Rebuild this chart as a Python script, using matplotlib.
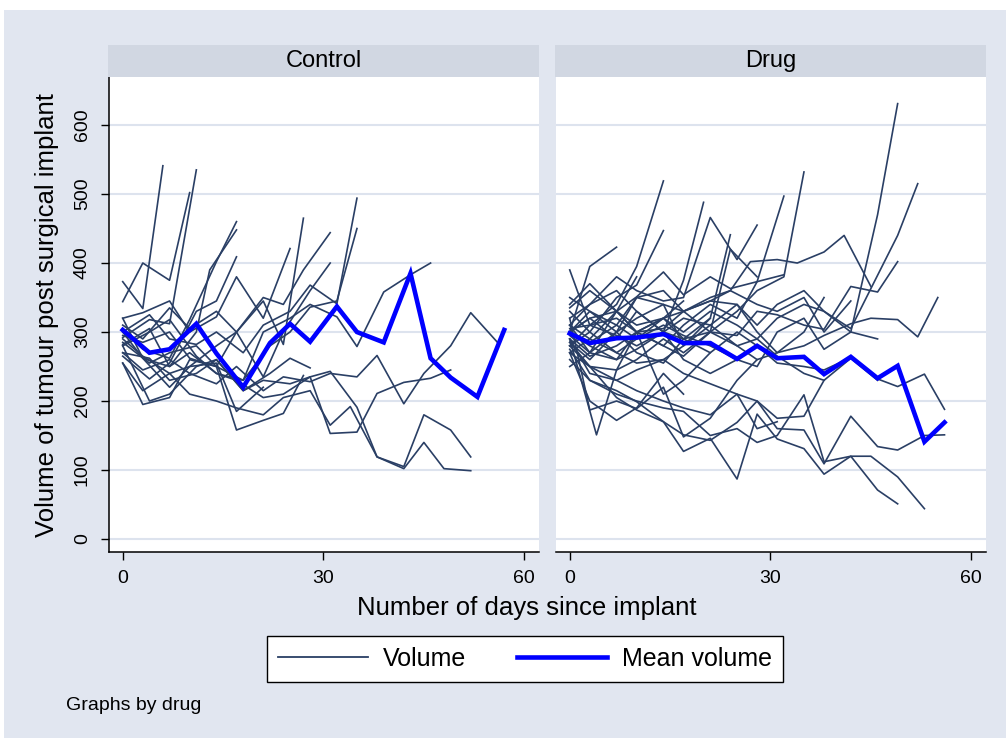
import matplotlib.pyplot as plt
from matplotlib.lines import Line2D
from matplotlib.patches import Rectangle

plt.rcParams['font.family'] = ['Liberation Sans', 'DejaVu Sans']

# ---- data: one list of days and one of volumes per subject ----
ctrl_days = [
    [0, 3, 6],
    [0, 3, 7, 10],
    [0, 4, 7, 11],
    [0, 3, 7, 10, 14, 17],
    [0, 4, 7, 11, 13, 17],
    [0, 4, 7, 11, 14, 17],
    [0, 3, 7, 10, 14, 17, 21, 25],
    [0, 3, 7, 10, 14, 17, 21, 24, 27],
    [0, 4, 7, 11, 14, 18, 21, 25, 28, 32, 35],
    [0, 4, 7, 11, 14, 18, 22, 25, 28, 32, 35],
    [0, 3, 7, 10, 14, 17, 21, 24, 27, 31],
    [0, 3, 7, 10, 14, 17, 21, 24, 28, 31],
    [0, 4, 7, 11, 14, 18, 21, 25, 28, 32, 35, 39, 43, 46],
    [0, 3, 7, 10, 14, 17, 21, 24, 28, 31, 35, 38, 42, 45, 49, 52, 56],
    [0, 3, 7, 10, 14, 17, 21, 24, 28, 31, 35, 38, 42, 45, 49, 52],
    [0, 3, 7, 10, 14, 17, 21, 24, 28, 31, 34, 38, 42, 45, 48, 52],
    [0, 4, 7, 11, 14, 18, 21, 25, 28, 31, 35, 38, 42, 46, 49],
    [0, 4, 7, 11, 14, 18, 22, 25, 28],
    [0, 3, 7, 10, 14, 17, 21, 24, 27],
    [0, 3, 7, 10, 14, 17, 21],
]
ctrl_volume = [
    [373, 334, 541],
    [344, 400, 375, 502],
    [292, 318, 312, 535],
    [305, 275, 262, 318, 402, 460],
    [282, 305, 250, 300, 390, 448],
    [265, 232, 255, 330, 345, 409],
    [320, 328, 345, 300, 322, 380, 320, 421],
    [295, 285, 300, 262, 250, 300, 345, 282, 465],
    [300, 325, 290, 282, 300, 270, 310, 330, 368, 341, 494],
    [280, 300, 318, 265, 240, 230, 280, 300, 336, 345, 450],
    [310, 290, 335, 305, 330, 300, 350, 340, 390, 444],
    [290, 265, 240, 250, 280, 300, 235, 300, 360, 400],
    [285, 255, 270, 280, 250, 230, 300, 320, 340, 322, 279, 358, 383, 400],
    [270, 245, 260, 240, 225, 250, 215, 235, 228, 240, 235, 266, 196, 240, 280, 328, 285],
    [300, 262, 250, 270, 240, 230, 205, 210, 235, 243, 191, 119, 105, 180, 158, 119],
    [255, 215, 240, 210, 200, 190, 180, 205, 215, 165, 192, 119, 102, 140, 102, 99],
    [280, 200, 210, 250, 260, 215, 230, 225, 235, 153, 155, 211, 227, 233, 245],
    [270, 262, 230, 240, 260, 215, 240, 262, 248],
    [255, 195, 205, 260, 250, 158, 172, 182, 237],
    [320, 262, 220, 250, 255, 185, 220],
]
ctrl_mean_days = [0, 4, 7, 11, 14, 18, 22, 25, 28, 32, 35, 39, 43, 46, 49, 53, 57]
ctrl_mean_volume = [303, 270, 275, 312, 269, 220, 284, 312, 286, 337, 300, 285, 385, 262, 234, 206, 303]

drug_days = [
    [0, 3, 7, 10, 14],
    [0, 3, 7],
    [0, 3, 7, 10, 14],
    [0, 3, 7, 10, 14, 17, 20],
    [0, 3, 7, 10, 14, 17, 21, 25, 28],
    [0, 3, 7, 10, 14, 17, 21, 24],
    [0, 3, 7, 10, 14, 17, 21, 25, 28, 32, 35],
    [0, 3, 7, 10, 14, 17, 21, 25, 28, 32],
    [0, 3, 7, 10, 14, 17, 21, 24, 27, 31, 34, 38, 41, 45],
    [0, 3, 7, 10, 14, 17, 21, 25, 28, 31, 35, 38, 42, 46, 49],
    [0, 3, 7, 10, 14, 17, 21, 25, 28, 31, 35, 38, 42, 46, 49],
    [0, 3, 7, 10, 14, 17, 21, 25, 28, 31, 35, 38, 42, 45, 49, 52],
    [0, 3, 7, 10, 14, 17, 21, 25, 28, 31, 35, 38, 42, 45, 49, 52, 55],
    [0, 3, 7, 10, 14, 17, 21, 25, 28, 31, 35, 38, 42, 46, 49, 53, 56],
    [0, 3, 7, 10, 14, 17, 21, 25, 28, 31, 35, 38, 42, 46, 49, 53, 56],
    [0, 3, 7, 10, 14, 17, 21, 25, 28, 31, 35, 38, 42, 45, 49, 53],
    [0, 3, 7, 10, 14, 17, 21, 25, 28, 31, 35, 38, 42, 46, 49],
    [0, 3, 7, 10, 14, 17, 21, 25, 28, 31, 35, 38],
    [0, 4, 7, 10, 14, 17, 21],
    [0, 3, 7, 10, 14, 17],
    [0, 3, 7, 10, 14, 17, 21, 25, 28],
    [0, 3, 7, 10, 14, 17, 21, 24, 28],
    [0, 3, 7, 10, 14, 17, 21, 25, 28, 31, 35, 38],
    [0, 3, 7, 10, 14, 17, 21],
    [0, 3, 7, 10, 14, 17, 21, 24, 28, 32],
    [0, 3, 7, 10, 14, 17, 21, 25, 28, 31, 35, 38, 42, 46],
    [0, 3, 7, 10, 14, 17, 21, 25],
    [0, 3, 7, 10, 14, 17, 21, 24, 28, 31, 35, 38, 42],
    [0, 3, 7, 10, 14, 17, 21, 25, 28, 31, 35, 38, 42, 46],
    [0, 3, 7, 10, 14, 17, 21, 25, 28, 31],
    [0, 3, 7, 10, 14, 17],
    [0, 3, 7, 10],
]
drug_volume = [
    [390, 310, 340, 395, 519],
    [300, 395, 423],
    [330, 300, 350, 368, 447],
    [300, 320, 290, 330, 300, 375, 488],
    [310, 340, 380, 360, 345, 350, 466, 405, 455],
    [285, 260, 300, 350, 340, 280, 320, 441],
    [295, 270, 260, 300, 320, 290, 300, 330, 360, 380, 532],
    [270, 290, 330, 300, 280, 310, 340, 320, 373, 497],
    [300, 330, 310, 350, 360, 330, 350, 360, 402, 405, 400, 416, 440, 366],
    [290, 265, 280, 300, 305, 330, 300, 295, 330, 325, 310, 304, 366, 358, 402],
    [280, 300, 270, 290, 310, 295, 280, 260, 250, 300, 320, 275, 300, 470, 631],
    [300, 285, 310, 290, 320, 300, 330, 310, 290, 320, 340, 330, 305, 363, 440, 515],
    [270, 250, 245, 260, 290, 270, 300, 280, 260, 270, 280, 295, 312, 320, 318, 293, 350],
    [300, 280, 260, 275, 300, 290, 270, 300, 280, 255, 250, 245, 263, 232, 221, 239, 188],
    [285, 250, 230, 245, 260, 240, 225, 210, 200, 160, 158, 109, 178, 134, 129, 150, 151],
    [260, 230, 215, 199, 170, 127, 146, 87, 181, 145, 131, 94, 120, 120, 90, 44],
    [275, 230, 210, 200, 190, 185, 150, 160, 140, 150, 209, 112, 120, 71, 51],
    [280, 250, 205, 187, 170, 151, 143, 169, 200, 175, 178, 230],
    [290, 151, 245, 300, 210, 230, 270],
    [270, 200, 172, 190, 240, 210],
    [320, 187, 200, 189, 220, 148, 175, 230, 260],
    [335, 360, 330, 300, 280, 265, 300, 420, 380],
    [310, 290, 270, 255, 260, 280, 310, 340, 300, 270, 300, 350],
    [350, 330, 300, 270, 255, 290, 320],
    [300, 320, 330, 351, 387, 354, 380, 363, 373, 383],
    [280, 310, 320, 300, 320, 330, 345, 340, 310, 340, 360, 330, 300, 290],
    [320, 340, 360, 330, 300, 260, 240, 260],
    [250, 270, 300, 320, 340, 330, 345, 360, 340, 330, 350, 300, 345],
    [305, 310, 295, 280, 300, 320, 310, 280, 290, 265, 240, 230, 262, 230],
    [290, 240, 230, 215, 200, 190, 180, 210, 160, 170],
    [340, 370, 330, 310, 320, 345],
    [310, 270, 330, 380],
]
drug_mean_days = [0, 3, 7, 10, 14, 17, 21, 25, 28, 31, 35, 38, 42, 46, 49, 53, 56]
drug_mean_volume = [298, 284, 291, 292, 297, 284, 284, 261, 280, 262, 264, 239, 264, 233, 251, 141, 169]

panel_titles = ['Control', 'Drug']
y_ticks = [0, 100, 200, 300, 400, 500, 600]
x_ticks = [0, 30, 60]

# ---- styling ----
W, H = 1006, 738
bg = '#E1E6F0'
strip = '#D1D7E2'
grid_col = '#DDE3EE'
navy = '#2A3F65'
blue = '#0000FF'

fig = plt.figure(figsize=(W / 100, H / 100), dpi=100, facecolor='white')
fig.patches.append(Rectangle((4 / W, 0), 1 - 4 / W, 1 - 10 / H, transform=fig.transFigure,
                             facecolor=bg, edgecolor='none', zorder=-10))

panels = [
    (109, ctrl_days, ctrl_volume, ctrl_mean_days, ctrl_mean_volume),
    (556, drug_days, drug_volume, drug_mean_days, drug_mean_volume),
]

for i, (left, days, vols, mdays, mvols) in enumerate(panels):
    ax = fig.add_axes([left / W, 1 - 552 / H, 430 / W, 475 / H])
    ax.set_facecolor('white')
    for d, v in zip(days, vols):
        ax.plot(d, v, color=navy, lw=1.2, zorder=2)
    ax.plot(mdays, mvols, color=blue, lw=3.3, zorder=3, solid_joinstyle='miter')

    ax.set_xlim(-2.05, 62.2)
    ax.set_ylim(-18.8, 669.6)
    ax.set_xticks(x_ticks)
    ax.set_yticks(y_ticks)
    ax.grid(axis='y', color=grid_col, lw=1.5)
    ax.set_axisbelow(True)
    for s in ['top', 'right']:
        ax.spines[s].set_visible(False)
    ax.spines['bottom'].set_color('black')
    ax.spines['bottom'].set_linewidth(1.1)
    ax.tick_params(axis='x', length=6, width=1, pad=7, labelsize=14)
    if i == 0:
        ax.spines['left'].set_linewidth(1.1)
        ax.tick_params(axis='y', length=6, width=1, pad=7, labelsize=14)
        for lab in ax.get_yticklabels():
            lab.set_rotation(90)
            lab.set_va('center')
    else:
        ax.spines['left'].set_visible(False)
        ax.tick_params(axis='y', left=False, labelleft=False)

    hax = fig.add_axes([(left - 1) / W, 1 - 77 / H, 431 / W, 32 / H])
    hax.set_facecolor(strip)
    hax.set_xticks([])
    hax.set_yticks([])
    for s in hax.spines.values():
        s.set_visible(False)
    hax.text(0.5, 0.5, panel_titles[i], ha='center', va='center', fontsize=17,
             transform=hax.transAxes)

fig.text(47 / W, 1 - 315 / H, 'Volume of tumour post surgical implant', rotation=90,
         ha='center', va='center', fontsize=18.5)
fig.text(527 / W, 1 - 608 / H, 'Number of days since implant', ha='center', va='center',
         fontsize=18.5)

handles = [Line2D([], [], color=navy, lw=1.3), Line2D([], [], color=blue, lw=3.3)]
leg = fig.legend(handles, ['Volume', 'Mean volume'], loc='center',
                 bbox_to_anchor=(525 / W, 1 - 659 / H), ncol=2, frameon=True,
                 fancybox=False, edgecolor='black', fontsize=18, handlelength=3.6,
                 columnspacing=2.0, borderpad=0.45, handletextpad=0.6, framealpha=1)
leg.get_frame().set_linewidth(1)
leg.get_frame().set_facecolor('white')

fig.text(66 / W, 1 - 705 / H, 'Graphs by drug', ha='left', va='center', fontsize=14)

fig.savefig('out.png', dpi=100, facecolor=fig.get_facecolor())
